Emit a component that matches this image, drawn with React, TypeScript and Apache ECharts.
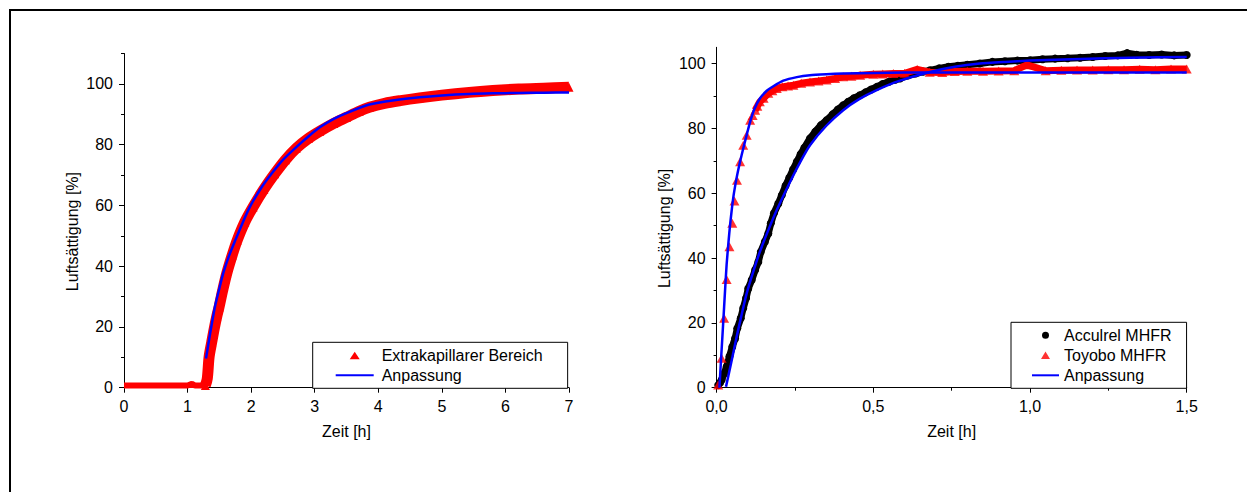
import React, { useEffect, useRef } from "react";
import * as echarts from "echarts";

// ---------- Left chart data ----------
const extraT = [0, 0.25, 0.5, 0.75, 1.0, 1.07, 1.12, 1.2, 1.28, 1.31, 1.339, 1.38, 1.42, 1.46, 1.496, 1.55, 1.616, 1.7, 1.78, 1.9, 2.03, 2.2, 2.37, 2.54, 2.71, 2.9, 3.08, 3.3, 3.5, 3.7, 3.86, 4.1, 4.35, 4.65, 5.0, 5.43, 5.8, 6.21, 6.6, 7.0];
const extraV = [0.7, 0.7, 0.7, 0.7, 0.7, 1.3, 0.7, 0.7, 0.7, 3, 10.2, 15, 19.5, 23.5, 26.6, 31.8, 37.6, 43.5, 48.5, 54.5, 59.5, 65.3, 70.4, 75, 78.8, 82, 84.4, 87, 89, 91, 92.3, 93.6, 94.5, 95.4, 96.3, 97.2, 97.8, 98.3, 98.6, 98.9];

const fitLeftT = [1.29, 1.36, 1.43, 1.5, 1.56, 1.65, 1.75, 1.86, 1.98, 2.15, 2.32, 2.5, 2.71, 2.9, 3.08, 3.3, 3.5, 3.86, 4.25, 4.65, 5.0, 5.43, 5.8, 6.21, 6.6, 7.0];
const fitLeftV = [9.6, 18.5, 26.6, 32.7, 37.6, 43.3, 48.5, 54, 59.5, 65.5, 70.4, 75, 79.2, 82.7, 85.7, 88.5, 90.4, 93.2, 94.6, 95.6, 96.2, 96.7, 96.9, 97.0, 97.1, 97.2];

// ---------- Right chart data ----------
const accT = [0.005, 0.011, 0.016, 0.024, 0.032, 0.041, 0.05, 0.059, 0.066, 0.077, 0.085, 0.094, 0.101, 0.112, 0.123, 0.133, 0.141, 0.154, 0.165, 0.173, 0.183, 0.197, 0.208, 0.22, 0.232, 0.244, 0.256, 0.268, 0.28, 0.298, 0.315, 0.333, 0.351, 0.37, 0.387, 0.404, 0.42, 0.438, 0.457, 0.475, 0.493, 0.511, 0.53, 0.55, 0.57, 0.585, 0.61, 0.635, 0.66, 0.681, 0.71, 0.74, 0.77, 0.8, 0.84, 0.88, 0.92, 0.96, 1.0, 1.04, 1.08, 1.12, 1.16, 1.2, 1.24, 1.28, 1.31, 1.34, 1.38, 1.42, 1.46, 1.5];
const accV = [0.8, 1.5, 2.4, 4.4, 6.5, 9.6, 12.6, 15.2, 18.3, 21.4, 24.5, 27.6, 30.6, 33.2, 36.3, 38.8, 41.9, 45, 47.6, 50.7, 53.8, 56.8, 59.4, 62.3, 64.8, 67.3, 69.7, 72, 74, 76.9, 79, 81, 82.5, 84.3, 85.8, 87.1, 88.2, 89.3, 90.2, 91.1, 92, 92.8, 93.7, 94.4, 95, 95.4, 96.3, 96.9, 97.5, 97.9, 98.5, 99, 99.3, 99.6, 100, 100.5, 100.7, 100.9, 101, 101.3, 101.5, 101.6, 101.8, 102, 102.3, 102.5, 103.2, 102.7, 102.6, 102.8, 102.5, 102.6];

const toyT = [0.005, 0.016, 0.024, 0.032, 0.041, 0.05, 0.057, 0.065, 0.075, 0.085, 0.096, 0.107, 0.115, 0.123, 0.13, 0.138, 0.15, 0.165, 0.178, 0.192, 0.21, 0.228, 0.245, 0.27, 0.298, 0.325, 0.351, 0.378, 0.404, 0.43, 0.458, 0.5, 0.53, 0.564, 0.6, 0.64, 0.68, 0.72, 0.76, 0.8, 0.85, 0.9, 0.95, 0.99, 1.05, 1.1, 1.15, 1.2, 1.25, 1.3, 1.35, 1.4, 1.45, 1.5];
const toyV = [0.8, 9.1, 21.4, 33.4, 43.5, 50.7, 57.6, 64, 69.7, 74.8, 77.9, 82.5, 84, 85.6, 86.8, 88.2, 89.3, 90.8, 91.6, 92.3, 92.8, 93.1, 93.3, 93.9, 94.3, 94.6, 94.9, 95.4, 95.9, 96.1, 96.4, 96.7, 96.8, 96.9, 97, 98.2, 97.3, 97.2, 97.5, 97.6, 97.6, 97.7, 97.8, 99.6, 97.8, 97.9, 98, 98, 98.1, 98.1, 98.2, 98.1, 98.3, 98.3];

const fitToyT = [0.009, 0.015, 0.021, 0.027, 0.032, 0.038, 0.043, 0.053, 0.064, 0.075, 0.085, 0.096, 0.107, 0.12, 0.138, 0.16, 0.181, 0.213, 0.256, 0.298, 0.35, 0.404, 0.5, 0.6, 0.8, 1.0, 1.25, 1.5];
const fitToyV = [0, 10, 19.9, 30, 38, 45, 50.2, 58.5, 64.8, 69.8, 73.8, 78, 82, 85.8, 89.2, 91.6, 93, 94.7, 95.8, 96.4, 96.7, 96.9, 97.1, 97.2, 97.2, 97.2, 97.2, 97.2];

const fitAccT = [0.03, 0.045, 0.064, 0.08, 0.096, 0.117, 0.138, 0.165, 0.192, 0.232, 0.265, 0.298, 0.35, 0.404, 0.455, 0.511, 0.585, 0.681, 0.76, 0.84, 0.92, 1.0, 1.16, 1.32, 1.5];
const fitAccV = [0.3, 7, 15.7, 22.6, 29.1, 35.8, 41.9, 48.6, 54.8, 63, 69.3, 74.8, 80.8, 85.6, 89, 91.8, 94.7, 97.4, 99, 100, 100.5, 100.9, 101.4, 101.8, 102];

// ---------- Tick values ----------
const leftYMajor = [0, 20, 40, 60, 80, 100];
const leftYMinor = [10, 30, 50, 70, 90, 110];
const rightYMajor = [0, 20, 40, 60, 80, 100];
const rightYMinor = [10, 30, 50, 70, 90];

const FONT = "'Liberation Sans', Arial, Helvetica, sans-serif";
const RED = "#ff0000";
const BLUE = "#0000ff";
const BLACK = "#000000";

// legend icons (bounding box given by the two leading moveTo points)
const ICON_TRI_L = "path://M0,0M38,9M14,8.5L19,1L24,8.5Z";
const ICON_LINE_L = "path://M0,0M38,9M0,3.5L38,3.5L38,5.5L0,5.5Z";
const ICON_CIRC_R = "path://M0,0M27,8M17,4A3.5,3.5,0,1,1,10,4A3.5,3.5,0,1,1,17,4Z";
const ICON_TRI_R = "path://M0,0M27,8M9,7.8L13.5,0.2L18,7.8Z";
const ICON_LINE_R = "path://M0,0M27,8M0,3L27,3L27,5L0,5Z";

const pairs = (t: number[], v: number[]) => t.map((x, i) => [x, v[i]]);

const extraAll = pairs(extraT, extraV);
const extraFlat = extraAll.filter((p) => p[0] <= 1.28);
const extraRise = extraAll.filter((p) => p[0] >= 1.28);
const toyAll = pairs(toyT, toyV);
const toyDense = toyAll.filter((p) => p[0] >= 0.12);

const lbl = { color: BLACK, fontSize: 16, fontFamily: FONT, margin: 11 };
const axLine = { show: true, onZero: false, lineStyle: { color: BLACK, width: 1 } };
const nameStyle = { color: BLACK, fontSize: 16, fontFamily: FONT };

function buildOption() {
  return {
    animation: false,
    backgroundColor: "#ffffff",
    textStyle: { fontFamily: FONT },
    grid: [
      { left: 124, top: 53.5, width: 445, height: 334.2, containLabel: false, outerBoundsMode: "none" },
      { left: 716.6, top: 47.3, width: 470.1, height: 340.4, containLabel: false, outerBoundsMode: "none" },
    ],
    xAxis: [
      {
        type: "value", gridIndex: 0, min: 0, max: 7, interval: 1,
        axisLine: axLine,
        axisTick: { show: true, length: 5, lineStyle: { color: BLACK } },
        axisLabel: lbl,
        splitLine: { show: false },
        name: "Zeit [h]", nameLocation: "middle", nameGap: 36, nameTextStyle: nameStyle,
      },
      {
        type: "value", gridIndex: 1, min: 0, max: 1.5, interval: 0.5,
        axisLine: axLine,
        axisTick: { show: true, length: 5, lineStyle: { color: BLACK } },
        minorTick: { show: true, splitNumber: 2, length: 3, lineStyle: { color: BLACK } },
        axisLabel: { ...lbl, formatter: (v: number) => v.toFixed(1).replace(".", ",") },
        splitLine: { show: false },
        minorSplitLine: { show: false },
        name: "Zeit [h]", nameLocation: "middle", nameGap: 36, nameTextStyle: nameStyle,
      },
    ],
    yAxis: [
      {
        type: "value", gridIndex: 0, min: 0, max: 110, interval: 10, position: "left",
        axisLine: axLine,
        axisTick: { show: true, length: 5, lineStyle: { color: BLACK }, customValues: leftYMajor },
        axisLabel: { ...lbl, customValues: leftYMajor },
        splitLine: { show: false },
        name: "Luftsättigung [%]", nameLocation: "middle", nameGap: 44,
        nameTextStyle: { ...nameStyle, padding: [0, 22, 0, 0] },
      },
      {
        type: "value", gridIndex: 0, min: 0, max: 110, interval: 10, position: "left",
        axisLine: { show: false },
        axisTick: { show: true, length: 3, lineStyle: { color: BLACK }, customValues: leftYMinor },
        axisLabel: { show: false },
        splitLine: { show: false },
      },
      {
        type: "value", gridIndex: 1, min: 0, max: 105, interval: 5, position: "left",
        axisLine: axLine,
        axisTick: { show: true, length: 5, lineStyle: { color: BLACK }, customValues: rightYMajor },
        axisLabel: { ...lbl, customValues: rightYMajor },
        splitLine: { show: false },
        name: "Luftsättigung [%]", nameLocation: "middle", nameGap: 44,
        nameTextStyle: { ...nameStyle, padding: [0, 22, 0, 0] },
      },
      {
        type: "value", gridIndex: 1, min: 0, max: 105, interval: 5, position: "left",
        axisLine: { show: false },
        axisTick: { show: true, length: 3, lineStyle: { color: BLACK }, customValues: rightYMinor },
        axisLabel: { show: false },
        splitLine: { show: false },
      },
    ],
    legend: [
      {
        data: [
          { name: "Extrakapillarer Bereich", icon: ICON_TRI_L },
          { name: "Anpassung", icon: ICON_LINE_L },
        ],
        orient: "vertical", left: 312.7, top: 342.3,
        itemWidth: 38, itemHeight: 9, itemGap: 4,
        padding: [5, 25, 5, 23],
        borderColor: BLACK, borderWidth: 1, borderRadius: 0, backgroundColor: "#ffffff",
        selectedMode: false,
        itemStyle: { borderWidth: 0 },
        textStyle: { color: BLACK, fontSize: 16, fontFamily: FONT, padding: [0, 0, 0, 3] },
      },
      {
        data: [
          { name: "Acculrel MHFR", icon: ICON_CIRC_R },
          { name: "Toyobo MHFR", icon: ICON_TRI_R },
          { name: "Anpassung", icon: ICON_LINE_R },
        ],
        orient: "vertical", left: 1011, top: 322.3,
        itemWidth: 27, itemHeight: 8, itemGap: 4,
        padding: [5, 15, 5, 21],
        borderColor: BLACK, borderWidth: 1, borderRadius: 0, backgroundColor: "#ffffff",
        selectedMode: false,
        itemStyle: { borderWidth: 0 },
        textStyle: { color: BLACK, fontSize: 16, fontFamily: FONT },
      },
    ],
    graphic: [
      {
        type: "rect", silent: true, z: 100,
        shape: { x: 10, y: 10, width: 1300, height: 600 },
        style: { fill: "none", stroke: BLACK, lineWidth: 2 },
      },
    ],
    series: [
      {
        type: "line", name: "_flat", xAxisIndex: 0, yAxisIndex: 0, data: extraFlat, z: 2,
        symbol: "none", lineStyle: { color: RED, width: 6 }, itemStyle: { color: RED }, silent: true,
      },
      {
        type: "line", name: "Extrakapillarer Bereich", xAxisIndex: 0, yAxisIndex: 0, data: extraRise, z: 2,
        symbol: "triangle", symbolSize: 9, showSymbol: true, smooth: 0.3,
        lineStyle: { color: RED, width: 11 }, itemStyle: { color: RED }, silent: true,
      },
      {
        type: "line", name: "Anpassung", xAxisIndex: 0, yAxisIndex: 0, data: pairs(fitLeftT, fitLeftV), z: 5,
        symbol: "none", smooth: 0.2, lineStyle: { color: BLUE, width: 2.5 }, itemStyle: { color: BLUE }, silent: true,
      },
      {
        type: "line", name: "Acculrel MHFR", xAxisIndex: 1, yAxisIndex: 2, data: pairs(accT, accV), z: 2,
        symbol: "circle", symbolSize: 8, showSymbol: true,
        lineStyle: { color: BLACK, width: 7 }, itemStyle: { color: BLACK }, silent: true,
      },
      {
        type: "line", name: "_toyband", xAxisIndex: 1, yAxisIndex: 2, data: toyDense, z: 3,
        symbol: "none", lineStyle: { color: RED, width: 7 }, itemStyle: { color: RED }, silent: true,
      },
      {
        type: "scatter", name: "Toyobo MHFR", xAxisIndex: 1, yAxisIndex: 2, data: toyAll, z: 3,
        symbol: "triangle", symbolSize: [10, 9], itemStyle: { color: RED }, silent: true,
      },
      {
        type: "line", name: "Anpassung", xAxisIndex: 1, yAxisIndex: 2, data: pairs(fitToyT, fitToyV), z: 5,
        symbol: "none", smooth: 0.2, lineStyle: { color: BLUE, width: 2.5 }, itemStyle: { color: BLUE }, silent: true,
      },
      {
        type: "line", name: "Anpassung", xAxisIndex: 1, yAxisIndex: 2, data: pairs(fitAccT, fitAccV), z: 5,
        symbol: "none", smooth: 0.2, lineStyle: { color: BLUE, width: 2.5 }, itemStyle: { color: BLUE }, silent: true,
      },
    ],
  };
}

export default function App() {
  const ref = useRef<HTMLDivElement>(null);
  useEffect(() => {
    if (!ref.current) return;
    const chart = echarts.init(ref.current, null, { renderer: "svg" });
    chart.setOption(buildOption() as any);
    return () => chart.dispose();
  }, []);
  return (
    <div
      ref={ref}
      style={{ position: "absolute", left: 0, top: 0, width: 1247, height: 492, background: "#ffffff" }}
    />
  );
}
